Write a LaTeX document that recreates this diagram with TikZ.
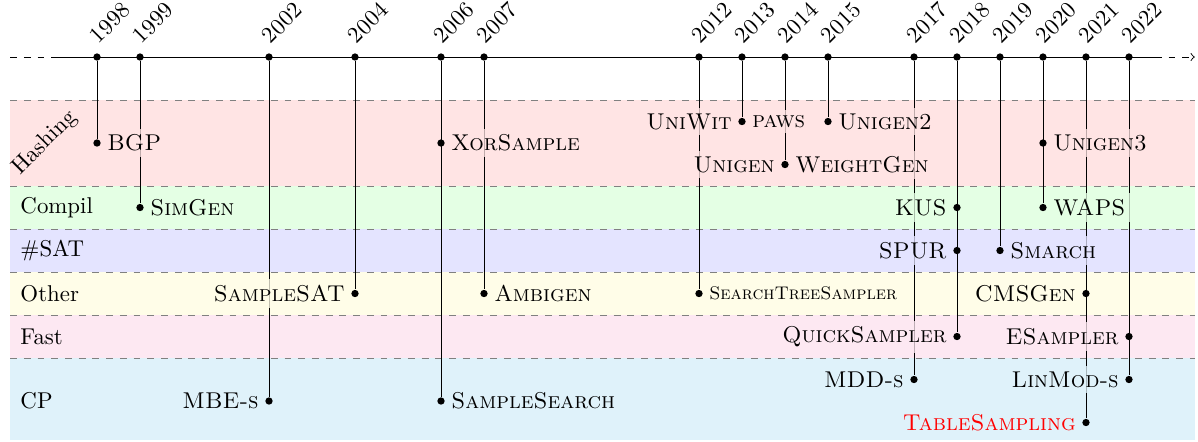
\documentclass[tikz,border=0pt]{standalone}
\usepackage{amsmath,amssymb}
\usepackage{tikz}
\usetikzlibrary{positioning}
\usetikzlibrary{arrows}
\usepackage{xcolor}
\definecolor{hashcol}{RGB}{255,228,228}
\definecolor{compcol}{RGB}{228,255,228}
\definecolor{satcol}{RGB}{228,228,255}
\definecolor{othcol}{RGB}{255,253,232}
\definecolor{fastcol}{RGB}{253,232,242}
\definecolor{cpcol}{RGB}{223,242,250}

\begin{document}
\begin{tikzpicture}[x=0.661cm, y=0.661cm,
  dot/.style = {circle, fill, inner sep=0pt, minimum size=3.2pt},
  yr/.style = {rotate=45, anchor=south west, inner sep=1pt},
  tool/.style = {font=\scshape, inner sep=2.5pt, fill opacity=0.75, text opacity=1},
  sep/.style = {dashed, gray},
  cat/.style = {anchor=west, inner sep=0pt}]
\useasboundingbox (-2.256,1.326) rectangle (25.605,-8.93);

% bands
\fill[hashcol] (-2.02,-1) rectangle (25.53,-3);
\fill[compcol] (-2.02,-3) rectangle (25.53,-4);
\fill[satcol] (-2.02,-4) rectangle (25.53,-5);
\fill[othcol] (-2.02,-5) rectangle (25.53,-6);
\fill[fastcol] (-2.02,-6) rectangle (25.53,-7);
\fill[cpcol] (-2.02,-7) rectangle (25.53,-8.9);
\foreach \h in {-1,-3,-4,-5,-6,-7} \draw[sep] (-2.02,\h) -- (25.53,\h);

\node[rotate=45] (hash) at (-1.21,-2) {Hashing};
\node[cat] (compil) at (-1.79,-3.5) {Compil};
\node[cat] (sat) at (-1.79,-4.5) {\#SAT};
\node[cat] (other) at (-1.79,-5.5) {Other};
\node[cat] (fast) at (-1.79,-6.5) {Fast};
\node[cat] (cp) at (-1.79,-8) {CP};

% timeline
\coordinate (t0) at (-2.02,0);
\coordinate (t1) at (-1,0);
\coordinate (t2) at (24.6,0);
\coordinate (t3) at (25.53,0);
\draw[dashed] (t0) -- (t1);
\draw (t1) -- (t2);
\draw[dashed, ->] (t2) -- (t3);

\node[dot] (1998) at (0,0) {};
\node[dot] (1999) at (1,0) {};
\node[dot] (2002) at (4,0) {};
\node[dot] (2004) at (6,0) {};
\node[dot] (2006) at (8,0) {};
\node[dot] (2007) at (9,0) {};
\node[dot] (2012) at (14,0) {};
\node[dot] (2013) at (15,0) {};
\node[dot] (2014) at (16,0) {};
\node[dot] (2015) at (17,0) {};
\node[dot] (2017) at (19,0) {};
\node[dot] (2018) at (20,0) {};
\node[dot] (2019) at (21,0) {};
\node[dot] (2020) at (22,0) {};
\node[dot] (2021) at (23,0) {};
\node[dot] (2022) at (24,0) {};
\foreach \y in {1998,1999,2002,2004,2006,2007,2012,2013,2014,2015,2017,2018,2019,2020,2021,2022}
  \node (l\y) [above right=3.8pt and 1pt of \y.center, yr] {\y};

% samplers
\node[dot] (bgp) at (0,-2) {};
\node[dot] (xorsample) at (8,-2) {};
\node[dot] (uniwit) at (15,-1.5) {};
\node[dot] (unigen) at (16,-2.5) {};
\node[dot] (unigen2) at (17,-1.5) {};
\node[dot] (unigen3) at (22,-2) {};
\node[dot] (simgen) at (1,-3.5) {};
\node[dot] (kus) at (20,-3.5) {};
\node[dot] (waps) at (22,-3.5) {};
\node[dot] (spur) at (20,-4.5) {};
\node[dot] (smarch) at (21,-4.5) {};
\node[dot] (samplesat) at (6,-5.5) {};
\node[dot] (ambigen) at (9,-5.5) {};
\node[dot] (sts) at (14,-5.5) {};
\node[dot] (cmsgen) at (23,-5.5) {};
\node[dot] (quick) at (20,-6.5) {};
\node[dot] (esampler) at (24,-6.5) {};
\node[dot] (mbe) at (4,-8) {};
\node[dot] (samplesearch) at (8,-8) {};
\node[dot] (mdd) at (19,-7.5) {};
\node[dot] (linmod) at (24,-7.5) {};
\node[dot] (table) at (23,-8.5) {};

\draw (1998) -- (bgp);
\draw (1999) -- (simgen);
\draw (2002) -- (mbe);
\draw (2004) -- (samplesat);
\draw (2006) -- (samplesearch);
\draw (2007) -- (ambigen);
\draw (2012) -- (sts);
\draw (2013) -- (uniwit);
\draw (2014) -- (unigen);
\draw (2015) -- (unigen2);
\draw (2017) -- (mdd);
\draw (2018) -- (quick);
\draw (2019) -- (smarch);
\draw (2020) -- (waps);
\draw (2021) -- (table);
\draw (2022) -- (linmod);

\node[tool, fill=hashcol, right=0pt of bgp] (bgp-t) {BGP};
\node[tool, fill=hashcol, right=0pt of xorsample] (xorsample-t) {XorSample};
\node[tool, fill=hashcol, left=0pt of uniwit] (uniwit-t) {UniWit};
\node[tool, fill=hashcol, right=0pt of uniwit] (paws-t) {paws};
\node[tool, fill=hashcol, left=0pt of unigen] (unigen-t) {Unigen};
\node[tool, fill=hashcol, right=0pt of unigen] (weightgen-t) {WeightGen};
\node[tool, fill=hashcol, right=0pt of unigen2] (unigen2-t) {Unigen2};
\node[tool, fill=hashcol, right=0pt of unigen3] (unigen3-t) {Unigen3};
\node[tool, fill=compcol, right=0pt of simgen] (simgen-t) {SimGen};
\node[tool, fill=compcol, left=0pt of kus] (kus-t) {KUS};
\node[tool, fill=compcol, right=0pt of waps] (waps-t) {WAPS};
\node[tool, fill=satcol, left=0pt of spur] (spur-t) {SPUR};
\node[tool, fill=satcol, right=0pt of smarch] (smarch-t) {Smarch};
\node[tool, fill=othcol, left=0pt of samplesat] (samplesat-t) {SampleSAT};
\node[tool, fill=othcol, right=0pt of ambigen] (ambigen-t) {Ambigen};
\node[tool, fill=othcol, right=0pt of sts, font=\footnotesize\scshape] (sts-t) {SearchTreeSampler};
\node[tool, fill=othcol, left=0pt of cmsgen] (cmsgen-t) {CMSGen};
\node[tool, fill=fastcol, left=0pt of quick] (quick-t) {QuickSampler};
\node[tool, fill=fastcol, left=0pt of esampler] (esampler-t) {ESampler};
\node[tool, fill=cpcol, left=0pt of mbe] (mbe-t) {MBE-s};
\node[tool, fill=cpcol, right=0pt of samplesearch] (samplesearch-t) {SampleSearch};
\node[tool, fill=cpcol, left=0pt of mdd] (mdd-t) {MDD-s};
\node[tool, fill=cpcol, left=0pt of linmod] (linmod-t) {LinMod-s};
\node[tool, fill=cpcol, left=0pt of table, text=red] (table-t) {TableSampling};
\end{tikzpicture}
\end{document}
